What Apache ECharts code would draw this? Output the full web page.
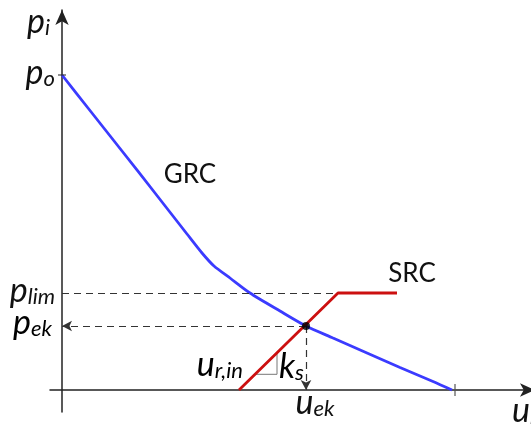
<!DOCTYPE html>
<html>
<head>
<meta charset="utf-8">
<script src="https://cdn.jsdelivr.net/npm/echarts@6/dist/echarts.min.js"></script>
<style>
  html, body { margin: 0; padding: 0; background: #fff; }
  #chart { width: 531px; height: 424px; }
</style>
</head>
<body>
<div id="chart"></div>
<script>
// GRC curve (grid response curve), abstract units
const grcX = [0, 26, 60, 93, 125, 140, 152, 168, 188, 218, 244, 271, 305, 338, 371, 390];
const grcY = [315, 282, 239, 197, 156, 137, 124, 112, 97, 79, 64, 52, 37, 22.5, 8.5, 0];

// SRC curve (start, knee, end)
const srcX = [177, 276, 335];
const srcY = [0, 97, 97];

// key levels
const pO = 315;
const pLim = 97;
const pEk = 64;
const uEk = 244;
const uEnd = 393;

// slope triangle under SRC
const triX = [193, 215, 215];
const triY = [15.7, 15.7, 37];

const yLabels = { 315: '{m|p}{s|o}', 97: '{m|p}{s|lim}' };

const rich = {
  m: { fontFamily: 'Lato', fontStyle: 'italic', fontSize: 34, color: '#111', lineHeight: 30, verticalAlign: 'bottom' },
  s: { fontFamily: 'Lato', fontStyle: 'italic', fontSize: 22, color: '#111', lineHeight: 16, verticalAlign: 'bottom' }
};

const toPairs = (xs, ys) => xs.map((x, i) => [x, ys[i]]);

const chart = echarts.init(document.getElementById('chart'));

const dash = { color: '#333', width: 1.2, type: [7, 5] };

chart.setOption({
  animation: false,
  grid: { left: 50, right: -4, top: 10, bottom: 12, outerBoundsMode: 'none', containLabel: false },
  xAxis: {
    type: 'value',
    min: -12,
    max: 473,
    splitLine: { show: false },
    axisTick: { show: false },
    axisLine: {
      onZero: true,
      lineStyle: { color: '#222', width: 1.5 },
      symbol: ['none', 'arrow'],
      symbolSize: [10, 15]
    },
    axisLabel: {
      customValues: [uEk],
      formatter: () => '{m|u}{s|ek}',
      rich: rich,
      hideOverlap: false,
      margin: -22,
      padding: [0, 0, 0, 18]
    },
    name: '{m|u}{s|r}',
    nameLocation: 'end',
    nameGap: -23,
    nameTextStyle: { rich: rich, align: 'left', verticalAlign: 'top', padding: [8, 0, 0, 0] }
  },
  yAxis: {
    type: 'value',
    min: -22,
    max: 380,
    splitLine: { show: false },
    axisTick: { show: false },
    axisLine: {
      onZero: true,
      lineStyle: { color: '#222', width: 1.5 },
      symbol: ['none', 'arrow'],
      symbolSize: [10, 15]
    },
    axisLabel: {
      customValues: [pO, pLim],
      formatter: v => yLabels[v],
      rich: rich,
      hideOverlap: false,
      margin: -5
    },
    name: '{m|p}{s|i}',
    nameLocation: 'end',
    nameGap: -14,
    nameTextStyle: { rich: rich, align: 'right', verticalAlign: 'middle', padding: [0, 12, 0, 0] }
  },
  series: [
    {
      name: 'GRC',
      type: 'line',
      data: toPairs(grcX, grcY),
      smooth: 0.25,
      showSymbol: false,
      lineStyle: { color: '#3b3bff', width: 2.8 },
      z: 3
    },
    {
      name: 'SRC',
      type: 'line',
      data: toPairs(srcX, srcY),
      showSymbol: false,
      lineStyle: { color: '#cc1010', width: 2.8 },
      z: 3,
      markLine: {
        silent: true,
        symbol: ['none', 'none'],
        symbolSize: [8, 10],
        label: { show: false },
        lineStyle: dash,
        data: [
          [{ coord: [0, pLim] }, { coord: [srcX[1], pLim] }],
          [{ coord: [uEk, pEk] }, { coord: [0, pEk], symbol: 'arrow' }],
          [{ coord: [uEk, pEk] }, { coord: [uEk, 0], symbol: 'arrow' }]
        ]
      }
    },
    {
      name: 'slope',
      type: 'line',
      data: toPairs(triX, triY),
      showSymbol: false,
      lineStyle: { color: '#777', width: 1 },
      z: 2
    },
    {
      name: 'op',
      type: 'scatter',
      data: [[uEk, pEk]],
      symbolSize: 8,
      itemStyle: { color: '#000' },
      z: 5
    },
    {
      name: 'tickY',
      type: 'line',
      data: [[-4, pO], [4, pO]],
      showSymbol: false,
      lineStyle: { color: '#222', width: 1.2 }
    },
    {
      name: 'tickX',
      type: 'line',
      data: [[uEnd, -6], [uEnd, 6]],
      showSymbol: false,
      lineStyle: { color: '#555', width: 1.2 }
    }
  ],
  graphic: [
    { type: 'text', x: 190, y: 175, style: { text: 'GRC', fontFamily: 'Lato', fontSize: 26, fill: '#111', align: 'center', verticalAlign: 'middle' } },
    { type: 'text', x: 412, y: 274, style: { text: 'SRC', fontFamily: 'Lato', fontSize: 26, fill: '#111', align: 'center', verticalAlign: 'middle' } },
    { type: 'text', x: 243, y: 382, style: { text: '{m|u}{s|r,in}', rich: rich, align: 'right', verticalAlign: 'bottom' } },
    { type: 'text', x: 279, y: 384, style: { text: '{m|k}{s|s}', rich: rich, align: 'left', verticalAlign: 'bottom' } }
  ]
});

// p_ek label next to the y axis, placed through the chart's own scale
const ekPos = chart.convertToPixel({ gridIndex: 0 }, [0, pEk]);
chart.setOption({
  graphic: [
    { type: 'text', id: 'pek', x: ekPos[0] - 10, y: ekPos[1] - 1, style: { text: '{m|p}{s|ek}', rich: rich, align: 'right', verticalAlign: 'middle' } }
  ]
});
</script>
</body>
</html>
